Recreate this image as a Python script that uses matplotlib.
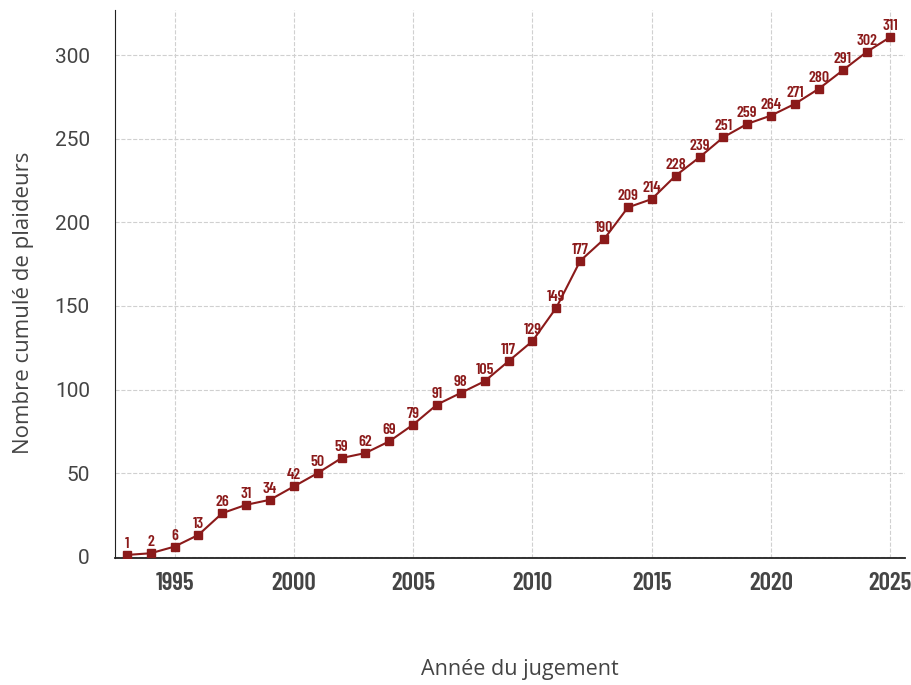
import matplotlib
matplotlib.use("Agg")
import matplotlib.pyplot as plt

years = list(range(1993, 2026))
cumul = [1, 2, 6, 13, 26, 31, 34, 42, 50, 59, 62, 69, 79, 91, 98, 105, 117,
         129, 149, 177, 190, 209, 214, 228, 239, 251, 259, 264, 271, 280,
         291, 302, 311]
xticks = [1995, 2000, 2005, 2010, 2015, 2020, 2025]
yticks = [0, 50, 100, 150, 200, 250, 300]

RED = "#8b1a1a"
GREY = "#444444"
NARROW = ["Barlow Condensed", "DejaVu Sans"]

fig = plt.figure(figsize=(9.12, 6.85), dpi=100)
ax = fig.add_axes([0.126, 0.185, 0.866, 0.800])

ax.plot(years, cumul, color=RED, lw=1.5, marker="s", ms=5.8, zorder=3)
for x, y in zip(years, cumul):
    ax.annotate(str(y), (x, y), xytext=(0, 5), textcoords="offset points",
                ha="center", va="baseline", color=RED, fontsize=11.5,
                fontweight="semibold", family=NARROW)

ax.set_xlim(1992.5, 2025.6)
ax.set_ylim(-1, 327)
ax.set_xticks(xticks)
ax.set_yticks(yticks)
ax.grid(True, ls="--", color="#d0d0d0", lw=0.8)
ax.set_axisbelow(True)
for s in ["top", "right"]:
    ax.spines[s].set_visible(False)
ax.spines["left"].set_color("#222222")
ax.spines["bottom"].set_color("#222222")
ax.spines["bottom"].set_linewidth(1.3)
ax.tick_params(length=0)
ax.tick_params(axis="x", pad=10)
ax.tick_params(axis="y", pad=18)

for lab in ax.get_xticklabels():
    lab.set_fontfamily(NARROW)
    lab.set_fontweight("semibold")
    lab.set_fontsize(18)
    lab.set_color(GREY)
for lab in ax.get_yticklabels():
    lab.set_fontfamily("Roboto")
    lab.set_fontsize(15)
    lab.set_color(GREY)

ax.set_xlabel("Année du jugement", fontsize=15.5, color=GREY,
              family="Open Sans")
ax.set_ylabel("Nombre cumulé de plaideurs", fontsize=16, color=GREY,
              family="Open Sans")
ax.xaxis.set_label_coords(0.513, -0.183)
ax.yaxis.set_label_coords(-0.102, 0.467)

fig.savefig("out.png", dpi=100)
